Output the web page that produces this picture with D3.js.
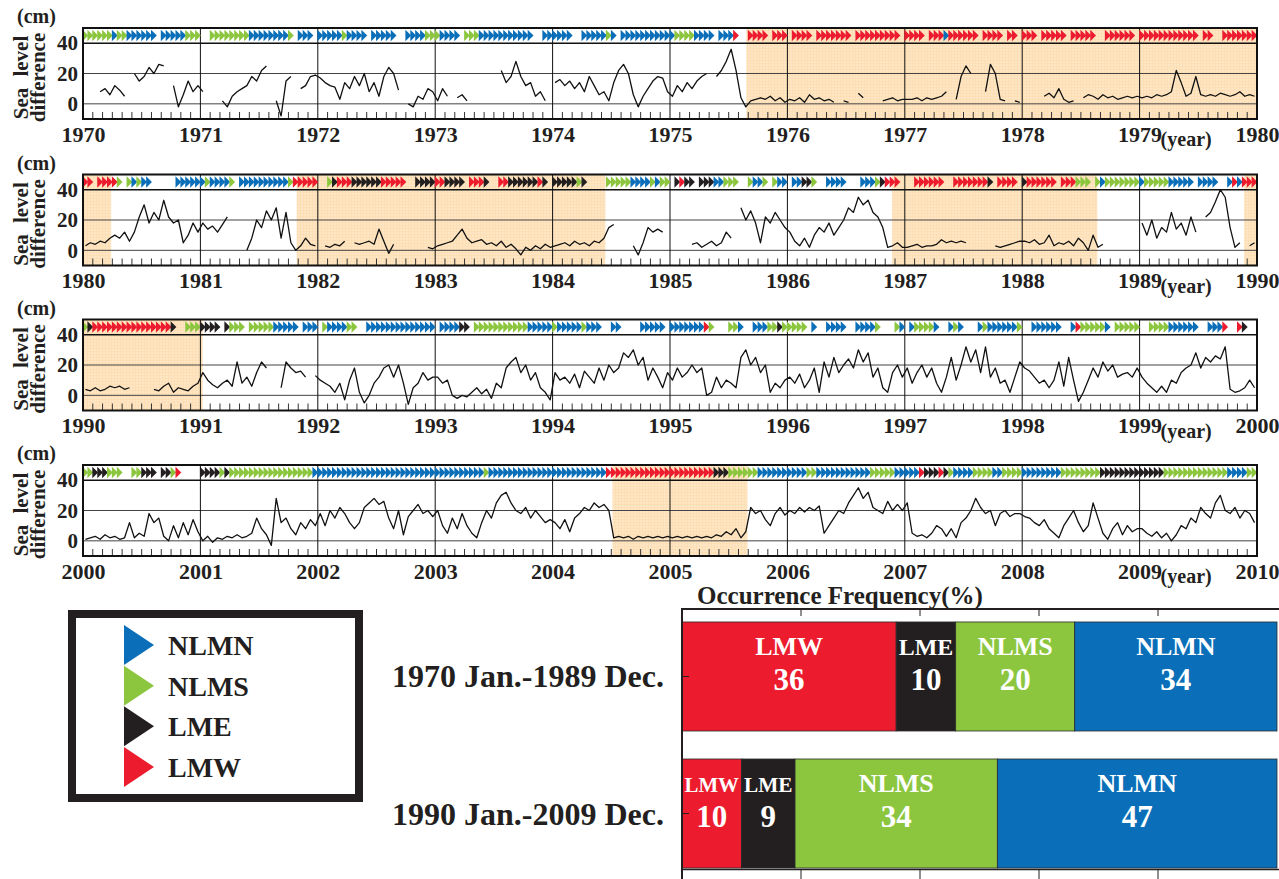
<!DOCTYPE html>
<html>
<head>
<meta charset="utf-8">
<script src="https://cdn.jsdelivr.net/npm/d3@7"></script>
<style>
  body { margin: 0; background: #fff; }
  svg { display: block; font-family: "Liberation Serif", "Times New Roman", serif; font-weight: bold; }
</style>
</head>
<body>
<script>
// sea level difference (cm), two values per month, null = missing
const sl1970s = [
  [null,null,null,8,10,6,12,9,5,null,20,15,18,24,20,26,25,null,12,-2,6,15,8,12],
  [8,null,null,null,2,-2,5,8,10,12,18,15,22,25,null,2,-8,15,18,null,10,12,18,19],
  [17,14,12,11,3,14,10,18,12,20,8,14,5,18,24,20,9,null,0,-2,5,3,10,8],
  [2,10,5,null,4,6,2,null,null,null,null,null,null,22,14,18,28,18,12,14,5,8,2,null],
  [14,16,12,15,10,14,8,18,12,6,8,2,14,22,26,20,6,-2,5,10,15,18,17,8],
  [5,12,8,14,10,15,18,20,null,18,22,28,36,22,4,-2,2,3,4,3,5,2,4,1],
  [3,2,4,1,6,3,4,2,3,1,null,2,1,null,7,4,null,null,null,2,3,4,2,3],
  [3,3,4,2,4,3,4,5,8,null,3,18,25,20,null,null,8,26,20,3,2,null,2,1],
  [null,null,null,null,5,7,4,10,3,1,2,null,4,6,5,3,6,4,5,3,4,5,4,5],
  [4,5,4,6,5,6,8,22,14,5,7,18,6,5,6,5,7,6,5,6,8,5,6,5]
];
const sl1980s = [
  [3,5,4,6,5,8,10,8,12,6,12,22,30,18,25,20,33,22,18,20,5,10,18,12],
  [18,14,16,12,17,22,null,null,null,0,8,20,15,26,20,28,8,25,5,0,3,8,4,3],
  [null,3,2,4,3,6,null,5,4,5,6,4,14,6,-2,4,null,null,null,null,2,null,2,1],
  [3,4,5,6,10,14,8,5,6,7,4,5,3,6,2,4,1,-3,2,0,3,1,4,2],
  [3,4,5,3,6,4,5,3,6,5,8,15,17,null,15,null,3,-3,5,15,12,14,12,null],
  [null,null,null,null,4,5,2,4,6,3,5,12,8,null,28,20,26,18,5,22,18,25,20,15],
  [12,6,3,8,2,10,15,12,18,10,15,20,28,25,35,30,33,25,22,15,2,3,5,2],
  [2,3,4,2,3,3,4,7,5,6,5,6,5,null,null,null,null,null,3,2,3,4,5,6],
  [6,5,7,4,5,10,3,5,4,6,3,8,5,0,10,2,4,null,null,null,null,null,null,null],
  [18,10,20,8,15,12,25,14,18,10,22,12,null,22,25,32,40,35,15,2,5,null,3,5]
];
const sl1990s = [
  [4,3,5,3,4,6,5,6,4,5,null,null,null,null,4,3,6,8,2,5,4,3,6,8],
  [15,10,7,5,8,10,6,22,8,12,6,15,22,18,null,null,5,22,18,15,16,12,null,13],
  [10,8,6,2,8,-3,10,18,2,-5,0,8,12,18,20,12,20,8,-6,5,8,15,10,12],
  [12,8,10,0,-2,0,-1,2,5,1,4,-2,8,5,18,22,25,15,20,10,15,5,2,-3],
  [15,10,12,8,14,5,16,12,8,18,10,20,15,18,28,25,30,20,25,10,18,12,5,15],
  [10,18,12,15,20,15,18,0,2,12,5,10,8,5,25,30,20,25,15,20,2,8,5,10],
  [12,8,14,5,10,18,2,22,12,25,15,20,24,18,30,22,28,12,18,5,2,15,20,12],
  [18,8,15,20,12,18,8,2,12,25,10,20,32,22,30,15,32,12,18,8,10,2,12,22],
  [18,16,12,8,10,5,10,22,6,25,10,-4,2,10,18,12,22,16,20,12,14,15,12,18],
  [12,8,5,2,6,2,10,8,15,18,20,28,18,25,22,26,24,32,4,2,3,5,10,5]
];
const sl2000s = [
  [1,2,3,1,4,2,3,1,2,12,2,5,3,18,12,15,3,0,10,2,12,4,14,6],
  [0,3,-1,2,1,3,2,4,2,3,5,15,8,4,-3,28,12,15,8,4,12,8,14,10],
  [18,10,20,15,22,18,12,8,12,22,25,28,24,26,15,8,20,4,16,20,24,18,20,16],
  [20,10,5,15,8,18,10,5,2,12,20,15,25,30,32,25,20,18,22,15,20,16,12,14],
  [12,8,14,6,15,18,22,20,25,22,24,20,2,3,2,3,1,3,2,3,2,3,2,3],
  [2,3,2,3,2,3,2,3,2,4,3,6,4,8,2,6,22,18,20,14,10,18,22,17],
  [20,18,22,19,22,20,23,5,10,15,20,18,25,30,35,28,32,22,20,18,26,20,24,20],
  [25,5,3,4,2,5,10,8,3,8,2,12,15,20,28,22,18,20,10,18,20,16,18,18],
  [16,15,12,10,14,8,5,2,10,15,20,12,6,10,25,15,5,1,8,12,4,10,6,8],
  [8,5,3,6,2,5,0,4,10,8,15,12,22,18,15,25,30,20,18,22,15,20,18,12]
];

// regime per half month: n = NLMN, s = NLMS, e = LME, w = LMW, . = none
const rg1970s = [
  "ssssssnssnnnnnn.nnnnnsss", "..ssssssssnnnnnnnns.nnn.", "nnnnnsnnnn.nnnnn..nnnnss",
  "snnnn.sssnnnnnnnnnnn..nn", "nnnn..nnnnnsn.nnnnnnnnnn", "nssssnnnn.nnnw..wwww.www",
  ".wwww.wwwwwww.wwwwwwwww.", "wwww.wwwnwwwwww.wwww.ww.", "www.wwwww.wwwww..wwwwww.",
  "wwwwwwwwwwww.ww..wwwwwww"
];
const rg1980s = [
  "ww.wwwws.snsnn.....nnnnn", "nsnnnns.nnnnnnnnnnswwwww", "..sewwweeeeeewwwww..eeee",
  "wweeee.wwwe..wweeeeeewe.", "eeeeese....sssssnnnnsnss", ".ewee.eeennsss..snns.snn",
  ".nnees..nnnn...nnnsewww.", "..wwwwww..wwwwwwwe.wwww.", "ewwwwww.wwwsss.snsssssss",
  "nsssssnnnnn.nnnn..nwnwww"
];
const rg1990s = [
  "sewwwwwwwwwwwwwwwwe..sss", "eeee.esss.sssssnnnnn.nnn", ".snnnnss..nnnnnnnnnnnnnn",
  ".nnnnee.sssssssssssnnnnn", "snnnnnsnnn..nn....nnnnn.", "nnnnnnnws...ssn..nnnsses",
  "ssss.n..nnnn..nnnns...sn", ".nssssn..nsn...nsnnnnnns", "..nnnnnn..nwsssssn.sssss",
  "..ssssnnnnnn..nnnw..we.."
];
const rg2000s = [
  "sseeesss..sseee.eesw....", "eeeesesssssssssssssssssn", "nnnnnnnnnnnnnnnnnnnnnnnn",
  "nnnnnnnnnnsnnnnnnnnnnnnn", "nnnnnnnnnnnwwwwwwwwwwwww", "wwwwwwwwweeessssssnnnnnn",
  "nnnnssnnnnnnnnnnnsssssnn", "nnnweeewesnnnnssssnnssss", "nnnnnnnnsssssssseeeeeeee",
  "eeeeesssssssssssssnnnnss"
];

const decades = [1970, 1980, 1990, 2000];
const shadedPeriods = [
  [1975.65, 1980], [1980, 1980.24], [1981.82, 1984.45], [1986.89, 1988.64],
  [1989.89, 1990], [1990, 1991.02], [2004.51, 2005.66]
];

const regimeNames = ["NLMN", "NLMS", "LME", "LMW"];
const periods = ["1970 Jan.-1989 Dec.", "1990 Jan.-2009 Dec."];
const freqKeys = ["LMW", "LME", "NLMS", "NLMN"];
const freq1970s = [36, 10, 20, 34];
const freq1990s = [10, 9, 34, 47];

const COLORS = { n: "#0a6fb8", s: "#8cc63f", e: "#231f20", w: "#ec1c2e" };
const NAME_COLORS = { NLMN: COLORS.n, NLMS: COLORS.s, LME: COLORS.e, LMW: COLORS.w };

const WIDTH = 1279;
const HEIGHT = 879;
const X_LEFT = 83;
const X_RIGHT = 1257;
const PANEL_TOPS = [28, 174.5, 319.5, 465];
const PANEL_H = 91;
const TRI_W = 5.8;
const TRI_H = 11.5;
const BAR_NAME_SIZE = 26;

const svg = d3.select("body").append("svg")
  .attr("width", WIDTH)
  .attr("height", HEIGHT);

const defs = svg.append("defs");
const pat = defs.append("pattern")
  .attr("id", "shade")
  .attr("width", 3).attr("height", 3)
  .attr("patternUnits", "userSpaceOnUse");
pat.append("rect").attr("width", 3).attr("height", 3).attr("fill", "#fee6c4");
pat.append("path").attr("d", "M0,0.5H3M0.5,0V3")
  .attr("stroke", "#fcdcae").attr("stroke-width", 0.6);

const seaLevel = [sl1970s, sl1980s, sl1990s, sl2000s];
const regimes = [rg1970s, rg1980s, rg1990s, rg2000s];

function drawPanel(start, p) {
  const top = PANEL_TOPS[p];
  const x = d3.scaleLinear().domain([start, start + 10]).range([X_LEFT, X_RIGHT]);
  const y = d3.scaleLinear().domain([-10, 50]).range([top + PANEL_H, top]);
  const g = svg.append("g");

  // shaded periods
  shadedPeriods.forEach(([a, b]) => {
    const a2 = Math.max(a, start), b2 = Math.min(b, start + 10);
    if (b2 <= a2) return;
    g.append("rect")
      .attr("x", x(a2)).attr("y", y(50))
      .attr("width", x(b2) - x(a2)).attr("height", y(-10) - y(50))
      .attr("fill", "url(#shade)");
  });

  // monthly ticks
  const months = d3.range(start * 12, (start + 10) * 12).filter((m) => m % 12).map((m) => m / 12);
  g.selectAll(".mtick").data(months).join("line")
    .attr("x1", (d) => x(d)).attr("x2", (d) => x(d))
    .attr("y1", y(-10)).attr("y2", y(-10) - 7)
    .attr("stroke", "#333").attr("stroke-width", 1);

  // horizontal grid
  g.selectAll(".hgrid").data([0, 20]).join("line")
    .attr("x1", X_LEFT).attr("x2", X_RIGHT)
    .attr("y1", (d) => y(d)).attr("y2", (d) => y(d))
    .attr("stroke", "#444").attr("stroke-width", 1);
  g.append("line")
    .attr("x1", X_LEFT).attr("x2", X_RIGHT)
    .attr("y1", y(40)).attr("y2", y(40))
    .attr("stroke", "#111").attr("stroke-width", 1.5);

  // year lines
  g.selectAll(".ygrid").data(d3.range(start + 1, start + 10)).join("line")
    .attr("x1", (d) => x(d)).attr("x2", (d) => x(d))
    .attr("y1", y(50)).attr("y2", y(-10))
    .attr("stroke", "#111").attr("stroke-width", 1);

  // sea level series
  const pts = seaLevel[p].flatMap((row, k) =>
    row.map((v, i) => ({ t: start + k + (i + 0.5) / row.length, v })));
  g.append("path")
    .datum(pts)
    .attr("d", d3.line().defined((d) => d.v !== null).x((d) => x(d.t)).y((d) => y(d.v)))
    .attr("fill", "none")
    .attr("stroke", "#111")
    .attr("stroke-width", 1.3)
    .attr("stroke-linejoin", "round");

  // regime triangles
  const tris = regimes[p].flatMap((code, k) =>
    code.split("").map((c, i) => ({ t: start + k + (i + 0.5) / code.length, c }))
  ).filter((d) => d.c !== ".");
  const yc = y(45);
  g.selectAll(".tri").data(tris).join("path")
    .attr("d", (d) => {
      const xc = x(d.t);
      return `M${xc - TRI_W / 2},${yc - TRI_H / 2}L${xc + TRI_W / 2},${yc}L${xc - TRI_W / 2},${yc + TRI_H / 2}Z`;
    })
    .attr("fill", (d) => COLORS[d.c]);

  // frame
  g.append("rect")
    .attr("x", X_LEFT).attr("y", y(50))
    .attr("width", X_RIGHT - X_LEFT).attr("height", y(-10) - y(50))
    .attr("fill", "none").attr("stroke", "#111").attr("stroke-width", 2);

  // year labels
  const xAxis = g.append("g")
    .attr("transform", `translate(0,${y(-10)})`)
    .call(d3.axisBottom(x).tickValues(d3.range(start, start + 11))
      .tickFormat(d3.format("d")).tickSize(0).tickPadding(7));
  xAxis.select(".domain").remove();
  xAxis.selectAll("text")
    .attr("font-size", 22).attr("font-family", "Liberation Serif, serif")
    .attr("font-weight", "bold").attr("fill", "#231f20");

  // y tick labels
  const yAxis = g.append("g")
    .attr("transform", `translate(${X_LEFT},0)`)
    .call(d3.axisLeft(y).tickValues([0, 20, 40]).tickSize(0).tickPadding(5));
  yAxis.select(".domain").remove();
  yAxis.selectAll("text")
    .attr("font-size", 21).attr("font-family", "Liberation Serif, serif")
    .attr("font-weight", "bold").attr("fill", "#231f20");

  g.append("text")
    .attr("x", 17).attr("y", top - 5)
    .attr("font-size", 20).attr("fill", "#231f20")
    .text("(cm)");

  const midY = (y(50) + y(-10)) / 2 + 4;
  g.append("text")
    .attr("transform", `translate(28,${midY}) rotate(-90)`)
    .attr("text-anchor", "middle")
    .attr("font-size", 21).attr("fill", "#231f20")
    .attr("word-spacing", 6)
    .text("Sea level");
  g.append("text")
    .attr("transform", `translate(45,${midY}) rotate(-90)`)
    .attr("text-anchor", "middle")
    .attr("font-size", 21).attr("fill", "#231f20")
    .text("difference");

  g.append("text")
    .attr("x", x(start + 9) + 21).attr("y", y(-10) + 27)
    .attr("font-size", 20).attr("fill", "#231f20")
    .text("(year)");
}

decades.forEach(drawPanel);

// legend
const legend = svg.append("g");
legend.append("rect")
  .attr("x", 72).attr("y", 614).attr("width", 287).attr("height", 184)
  .attr("fill", "#fff").attr("stroke", "#231f20").attr("stroke-width", 8);
const legendY = d3.scalePoint().domain(regimeNames).range([645, 767]);
legend.selectAll(".ltri").data(regimeNames).join("path")
  .attr("d", (d) => {
    const c = legendY(d);
    return `M124,${c - 20}L154,${c}L124,${c + 20}Z`;
  })
  .attr("fill", (d) => NAME_COLORS[d]);
legend.selectAll(".ltext").data(regimeNames).join("text")
  .attr("x", 168).attr("y", (d) => legendY(d) + 10)
  .attr("font-size", 28).attr("fill", "#231f20")
  .text((d) => d);

// occurrence frequency bars
const freqRows = [freq1970s, freq1990s].map((vals, i) => {
  const row = { period: periods[i] };
  freqKeys.forEach((k, j) => { row[k] = vals[j]; });
  return row;
});
const stacked = d3.stack().keys(freqKeys)(freqRows);
const bx = d3.scaleLinear().domain([0, 100]).range([682, 1277]);
const by = d3.scaleBand().domain(periods).range([608, 882]).paddingInner(0.2044).paddingOuter(0.102);

const bars = svg.append("g");
stacked.forEach((layer) => {
  layer.forEach((d) => {
    const x0 = bx(d[0]), x1 = bx(d[1]);
    const top = by(d.data.period);
    bars.append("rect")
      .attr("x", x0).attr("y", top)
      .attr("width", x1 - x0).attr("height", by.bandwidth())
      .attr("fill", NAME_COLORS[layer.key])
      .attr("stroke", "#2a2a2a").attr("stroke-width", 0.8);
    const cx = (x0 + x1) / 2;
    const name = bars.append("text")
      .attr("x", cx).attr("y", top + 33)
      .attr("text-anchor", "middle").attr("font-size", BAR_NAME_SIZE).attr("fill", "#fff")
      .text(layer.key);
    // narrow bars: shrink the name so it stays inside its bar
    const w = name.node().getComputedTextLength();
    const room = x1 - x0 - 5;
    if (w > room) {
      name.attr("font-size", BAR_NAME_SIZE * room / w);
    }
    bars.append("text")
      .attr("x", cx).attr("y", top + 68)
      .attr("text-anchor", "middle").attr("font-size", 31).attr("fill", "#fff")
      .text(d[1] - d[0]);
  });
});

// frame and ticks
bars.append("line").attr("x1", 682).attr("x2", 1279).attr("y1", 609).attr("y2", 609)
  .attr("stroke", "#231f20").attr("stroke-width", 2);
bars.append("line").attr("x1", 682).attr("x2", 682).attr("y1", 608).attr("y2", 879)
  .attr("stroke", "#231f20").attr("stroke-width", 2);
bars.append("line").attr("x1", 682).attr("x2", 1279).attr("y1", 869.5).attr("y2", 869.5)
  .attr("stroke", "#231f20").attr("stroke-width", 1.5);
bars.selectAll(".xt").data([20, 40, 60, 80]).join("line")
  .attr("x1", (d) => bx(d)).attr("x2", (d) => bx(d))
  .attr("y1", 609).attr("y2", 616)
  .attr("stroke", "#231f20").attr("stroke-width", 1);
bars.selectAll(".xb").data([20, 40, 60, 80]).join("line")
  .attr("x1", (d) => bx(d)).attr("x2", (d) => bx(d))
  .attr("y1", 870).attr("y2", 879)
  .attr("stroke", "#231f20").attr("stroke-width", 1);
bars.selectAll(".yt").data(periods).join("line")
  .attr("x1", 682).attr("x2", 689)
  .attr("y1", (d) => by(d) + by.bandwidth() / 2).attr("y2", (d) => by(d) + by.bandwidth() / 2)
  .attr("stroke", "#231f20").attr("stroke-width", 1);

bars.selectAll(".plabel").data(periods).join("text")
  .attr("x", 664).attr("y", (d) => by(d) + by.bandwidth() / 2 + 11)
  .attr("text-anchor", "end").attr("font-size", 32).attr("fill", "#231f20")
  .text((d) => d);

svg.append("text")
  .attr("x", 697).attr("y", 604)
  .attr("font-size", 25).attr("fill", "#231f20")
  .text("Occurrence Frequency(%)");
</script>
</body>
</html>
